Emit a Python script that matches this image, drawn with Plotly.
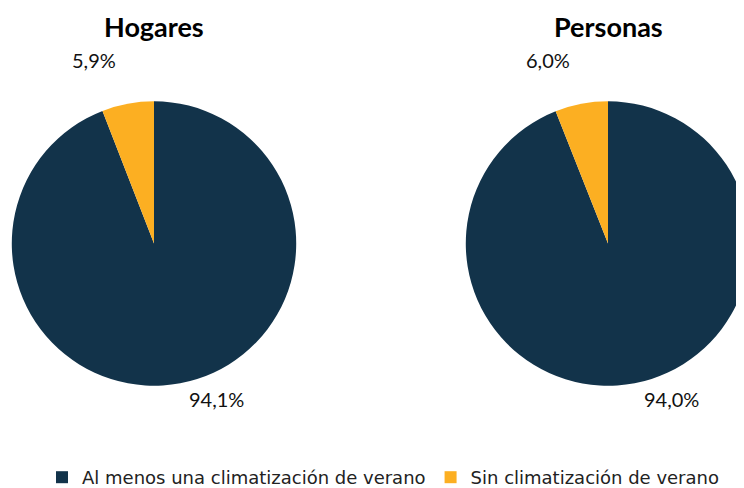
import plotly.graph_objects as go

# data
categorias = ['Al menos una climatización de verano', 'Sin climatización de verano']
hogares = [94.1, 5.9]
personas = [94.0, 6.0]
titulos = ['Hogares', 'Personas']
colores = ['#12334A', '#FCAF22']

FONT = 'Lato, Open Sans, sans-serif'
W, H = 744, 488
OFF = 8  # default body margin of the html page


def px(x):
    return (x - OFF) / W


def py(y):
    return 1 - (y - OFF) / H


def fmt(v):
    return f'{v:.1f}'.replace('.', ',') + '%'


fig = go.Figure()

centros = [154, 608]
R = 142.5
for valores, cx in zip([hogares, personas], centros):
    fig.add_trace(go.Pie(
        labels=categorias,
        values=valores,
        sort=False,
        direction='clockwise',
        rotation=0,
        marker=dict(colors=colores, line=dict(width=0)),
        textinfo='none',
        hoverinfo='label+percent',
        domain=dict(x=[px(cx - R), min(px(cx + R), 1.0)], y=[py(244 + R), py(244 - R)]),
    ))

# titles and value labels
for cx, titulo, valores in zip(centros, titulos, [hogares, personas]):
    fig.add_annotation(x=px(cx), y=py(27), xref='paper', yref='paper',
                       xanchor='center', yanchor='middle',
                       text=f'<b>{titulo}</b>', showarrow=False,
                       font=dict(size=27, color='black', family=FONT))
    fig.add_annotation(x=px(cx - 60), y=py(60), xref='paper', yref='paper',
                       xanchor='center', yanchor='middle',
                       text=fmt(valores[1]), showarrow=False,
                       font=dict(size=20, color='#111111', family=FONT))
    fig.add_annotation(x=px(cx + 63), y=py(400), xref='paper', yref='paper',
                       xanchor='center', yanchor='middle',
                       text=fmt(valores[0]), showarrow=False,
                       font=dict(size=20, color='#111111', family=FONT))

fig.update_layout(
    width=W, height=H,
    margin=dict(l=0, r=0, t=0, b=0),
    paper_bgcolor='white',
    plot_bgcolor='white',
    showlegend=True,
    legend=dict(orientation='h', x=px(383), xanchor='center', y=py(478), yanchor='middle',
                font=dict(size=18, color='#222222', family='DejaVu Sans'),
                itemsizing='constant'),
)

fig.write_html('out.html')
